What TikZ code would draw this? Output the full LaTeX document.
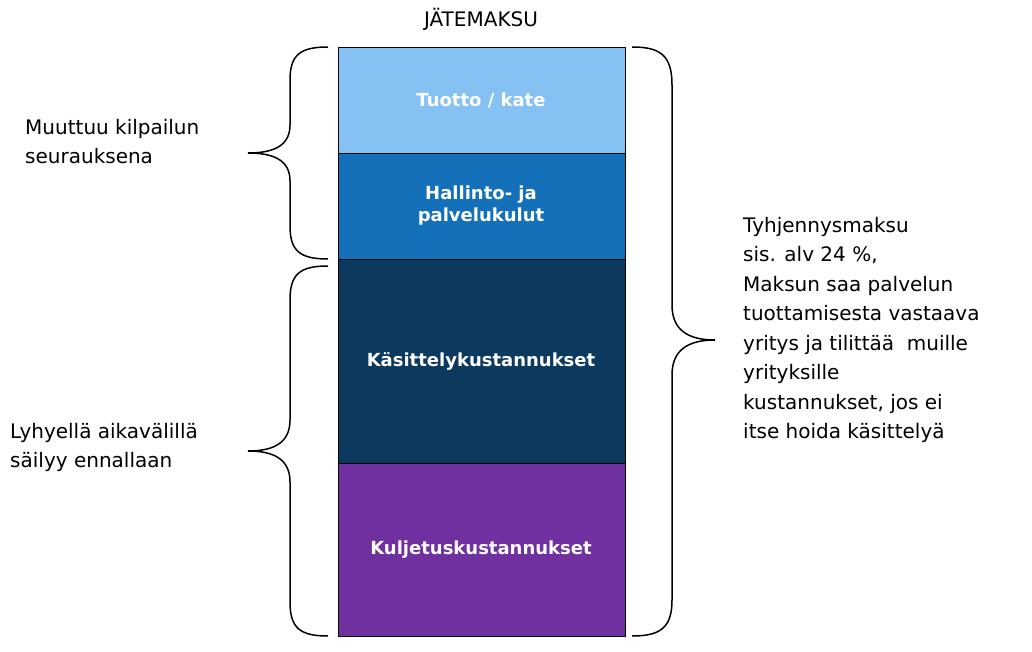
\documentclass[tikz,border=0pt]{standalone}
\usepackage{fontspec}
\setmainfont{DejaVu Sans}
\begin{document}
\begin{tikzpicture}[x=1pt,y=-1pt,
  seg/.style={draw=black,line width=0.8pt},
  lbl/.style={text=white,font=\bfseries\fontsize{18}{22}\selectfont,align=center},
  txt/.style={font=\fontsize{20}{29.5}\selectfont,align=left,anchor=north west,inner sep=0pt},
  br/.style={line width=1.5pt}]
\useasboundingbox (0,0) rectangle (1032,652);
\definecolor{c1}{HTML}{85C1F2}\definecolor{c2}{HTML}{1570BA}
\definecolor{c3}{HTML}{0C3A5E}\definecolor{c4}{HTML}{7030A0}
\node[font=\fontsize{20}{24}\selectfont] (t) at (481,19) {JÄTEMAKSU};
\filldraw[seg,fill=c1] (338,47) rectangle (625,153);
\filldraw[seg,fill=c2] (338,153) rectangle (625,259);
\filldraw[seg,fill=c3] (338,259) rectangle (625,463);
\filldraw[seg,fill=c4] (338,463) rectangle (625,636);
\node[lbl] (a) at (481,100) {Tuotto / kate};
\node[lbl] (b) at (481,206) {Hallinto- ja\\palvelukulut};
\node[lbl] (c) at (481,361) {Käsittelykustannukset};
\node[lbl] (d) at (481,550) {Kuljetuskustannukset};
% left brace 1
\draw[br] (328,47) .. controls (300,47) and (290,55) .. (290,80) -- (290,125) .. controls (290,145) and (275,153) .. (248,153)
 .. controls (275,153) and (290,161) .. (290,181) -- (290,226) .. controls (290,251) and (300,259) .. (328,259);
% left brace 2
\draw[br] (328,266) .. controls (300,266) and (290,274) .. (290,300) -- (290,420) .. controls (290,442) and (275,451) .. (248,451)
 .. controls (275,451) and (290,460) .. (290,482) -- (290,602) .. controls (290,628) and (300,636) .. (328,636);
% right brace
\draw[br] (632,47) .. controls (660,47) and (672,55) .. (672,85) -- (672,305) .. controls (672,330) and (688,340) .. (715,340)
 .. controls (688,340) and (672,350) .. (672,375) -- (672,600) .. controls (672,628) and (660,636) .. (632,636);
\node[txt] (l1) at (25,119) {Muuttuu kilpailun\\seurauksena};
\node[txt] (l2) at (10,423) {Lyhyellä aikavälillä\\säilyy ennallaan};
\node[txt] (r) at (743,217) {Tyhjennysmaksu\\sis. alv 24 \%,\\Maksun saa palvelun\\tuottamisesta vastaava\\yritys ja tilittää\ \ muille\\yrityksille\\kustannukset, jos ei\\itse hoida käsittelyä};
\end{tikzpicture}
\end{document}
